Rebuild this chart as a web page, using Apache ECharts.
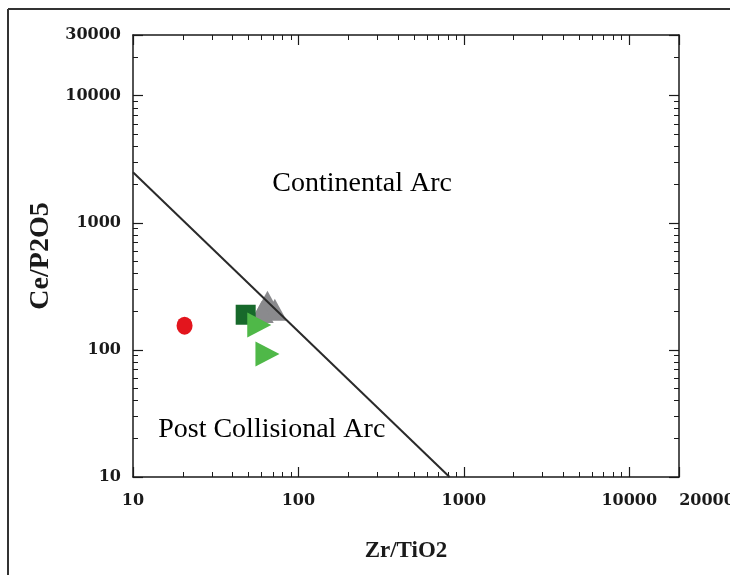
<!DOCTYPE html>
<html>
<head>
<meta charset="utf-8">
<script src="https://cdn.jsdelivr.net/npm/echarts@6/dist/echarts.min.js"></script>
<style>
html, body { margin: 0; background: #fff; }
#chart { width: 730px; height: 575px; }
</style>
</head>
<body>
<div id="chart"></div>
<script>
// Zr/TiO2 vs Ce/P2O5 tectonic discrimination plot
const redCircle  = [[20.5, 155]]
const darkSquare = [[48, 189]]
const greenTri   = [[58, 157], [65, 93]]
const grayTri    = [[65, 239], [72, 207], [60, 199]]
const boundary   = [[10, 2500], [820, 10]]
const fields     = [[243, 2030, 'Continental Arc'], [69, 23.5, 'Post Collisional Arc']]
const xRange = [10, 20000]
const yRange = [10, 30000]

const ink = '#1a1a1a'
const tickFont = { fontFamily: 'DejaVu Serif', fontWeight: 'bold', fontSize: 16, color: ink }

function minorTicks(max) {
  const out = []
  for (let d = 10; d < max; d *= 10)
    for (let k = 2; k <= 9; k++) if (d * k < max) out.push(d * k)
  return out
}

function frameAxis(range, position, minor) {
  return {
    type: 'log', logBase: 10, min: range[0], max: range[1], position,
    axisLine: { show: !minor, onZero: false, lineStyle: { color: ink, width: 1.5 } },
    axisTick: minor
      ? { inside: true, length: 5, customValues: minorTicks(range[1]), lineStyle: { color: ink, width: 1 } }
      : { inside: true, length: 10, lineStyle: { color: ink, width: 1.2 } },
    axisLabel: { show: false },
    splitLine: { show: false }
  }
}

const chart = echarts.init(document.getElementById('chart'))

chart.setOption({
  animation: false,
  backgroundColor: '#fff',
  grid: { left: 133, right: 51, top: 35, bottom: 98, outerBoundsMode: 'none', containLabel: false },
  graphic: [
    { type: 'line', shape: { x1: 8, y1: 9, x2: 730, y2: 9 }, style: { stroke: '#333', lineWidth: 2 } },
    { type: 'line', shape: { x1: 8, y1: 9, x2: 8, y2: 575 }, style: { stroke: '#333', lineWidth: 2 } }
  ],
  xAxis: [
    {
      ...frameAxis(xRange, 'bottom', false),
      axisLabel: {
        ...tickFont, margin: 16,
        formatter: v => v >= 19999 ? '{r|' + Math.round(v) + '}' : String(Math.round(v)),
        rich: { r: { ...tickFont, padding: [0, 0, 0, 56] } }
      },
      name: 'Zr/TiO2', nameLocation: 'middle', nameGap: 63,
      nameTextStyle: { fontFamily: 'Liberation Serif', fontWeight: 'bold', fontSize: 23, color: ink }
    },
    frameAxis(xRange, 'bottom', true),
    frameAxis(xRange, 'top', false),
    frameAxis(xRange, 'top', true)
  ],
  yAxis: [
    {
      ...frameAxis(yRange, 'left', false),
      axisLabel: { ...tickFont, margin: 12, formatter: v => String(Math.round(v)) },
      name: 'Ce/P2O5', nameLocation: 'middle', nameGap: 78,
      nameTextStyle: { fontFamily: 'Liberation Serif', fontWeight: 'bold', fontSize: 28, color: ink }
    },
    frameAxis(yRange, 'left', true),
    frameAxis(yRange, 'right', false),
    frameAxis(yRange, 'right', true)
  ],
  series: [
    {
      type: 'line', data: boundary, showSymbol: false, silent: true,
      lineStyle: { color: '#2a2a2a', width: 2 }
    },
    {
      type: 'scatter', data: grayTri, symbol: 'triangle', symbolSize: [24, 22],
      itemStyle: { color: '#8a8a8d', opacity: 1 }
    },
    {
      type: 'scatter', data: darkSquare, symbol: 'rect', symbolSize: 20,
      itemStyle: { color: '#17692b', opacity: 1 }
    },
    {
      type: 'scatter', data: greenTri, symbol: 'triangle', symbolSize: [25, 24], symbolRotate: -90,
      itemStyle: { color: '#4fb848', opacity: 1 }
    },
    {
      type: 'scatter', data: redCircle, symbol: 'circle', symbolSize: [16, 18],
      itemStyle: { color: '#e3151d', opacity: 1 }
    },
    {
      type: 'scatter', data: fields, symbolSize: 0, silent: true,
      itemStyle: { opacity: 1 },
      label: {
        show: true, position: 'inside', formatter: p => p.value[2],
        fontFamily: 'Liberation Serif', fontSize: 28, color: '#000'
      },
      labelLayout: { hideOverlap: false }
    }
  ]
})

window.addEventListener('resize', () => chart.resize())
</script>
</body>
</html>
